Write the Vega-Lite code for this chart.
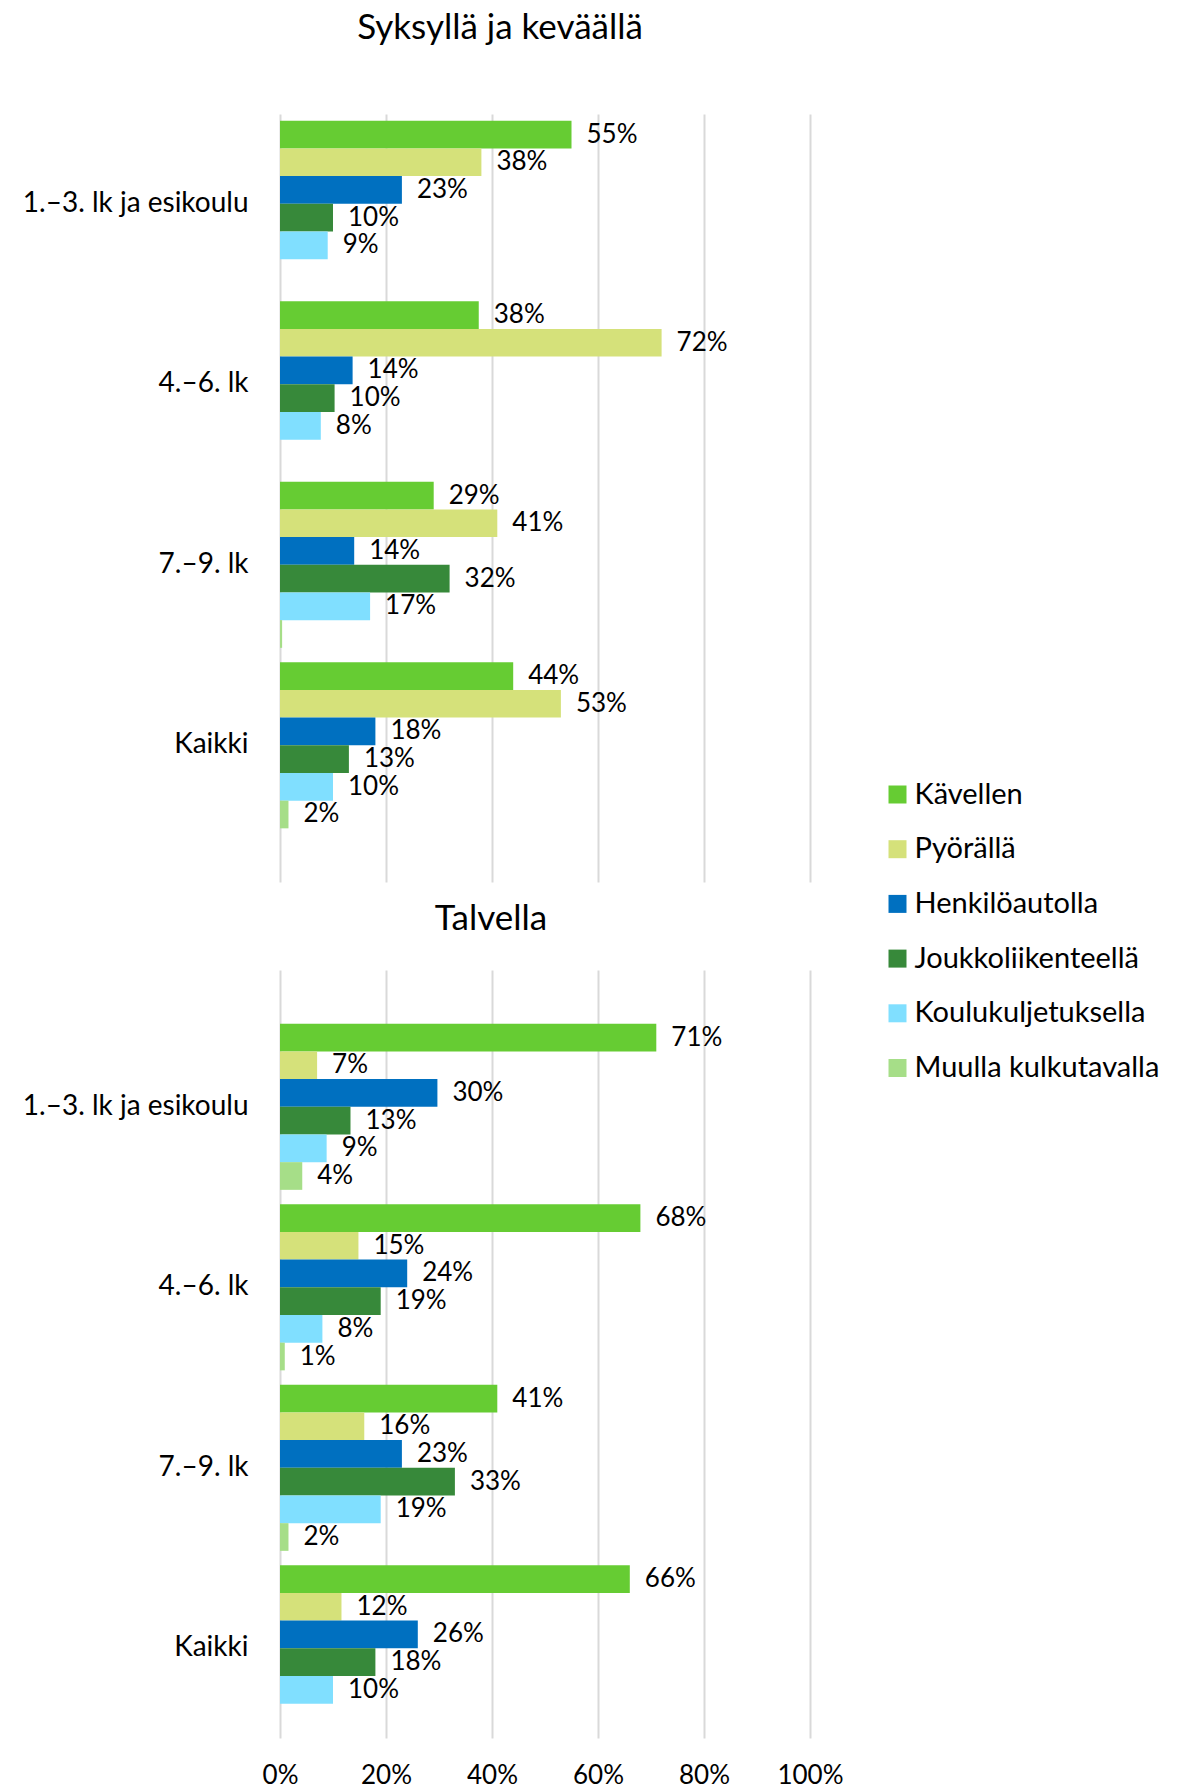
{
  "$schema": "https://vega.github.io/schema/vega-lite/v6.json",
  "padding": {"left": 22, "top": 11, "right": 0, "bottom": 0},
  "background": "white",
  "config": {
    "font": "Lato",
    "view": {"stroke": null},
    "concat": {"spacing": 20},
    "axis": {"labelColor": "#000", "gridColor": "#D9D9D9", "gridWidth": 2}
  },
  "datasets": {
    "syksy": [
      {"luokka": "1.–3. lk ja esikoulu", "tapa": "Kävellen", "osuus": 0.55},
      {"luokka": "1.–3. lk ja esikoulu", "tapa": "Pyörällä", "osuus": 0.38},
      {"luokka": "1.–3. lk ja esikoulu", "tapa": "Henkilöautolla", "osuus": 0.23},
      {"luokka": "1.–3. lk ja esikoulu", "tapa": "Joukkoliikenteellä", "osuus": 0.10},
      {"luokka": "1.–3. lk ja esikoulu", "tapa": "Koulukuljetuksella", "osuus": 0.09},
      {"luokka": "4.–6. lk", "tapa": "Kävellen", "osuus": 0.375},
      {"luokka": "4.–6. lk", "tapa": "Pyörällä", "osuus": 0.72},
      {"luokka": "4.–6. lk", "tapa": "Henkilöautolla", "osuus": 0.137},
      {"luokka": "4.–6. lk", "tapa": "Joukkoliikenteellä", "osuus": 0.103},
      {"luokka": "4.–6. lk", "tapa": "Koulukuljetuksella", "osuus": 0.077},
      {"luokka": "7.–9. lk", "tapa": "Kävellen", "osuus": 0.29},
      {"luokka": "7.–9. lk", "tapa": "Pyörällä", "osuus": 0.41},
      {"luokka": "7.–9. lk", "tapa": "Henkilöautolla", "osuus": 0.14},
      {"luokka": "7.–9. lk", "tapa": "Joukkoliikenteellä", "osuus": 0.32},
      {"luokka": "7.–9. lk", "tapa": "Koulukuljetuksella", "osuus": 0.17},
      {"luokka": "7.–9. lk", "tapa": "Muulla kulkutavalla", "osuus": 0.004},
      {"luokka": "Kaikki", "tapa": "Kävellen", "osuus": 0.44},
      {"luokka": "Kaikki", "tapa": "Pyörällä", "osuus": 0.53},
      {"luokka": "Kaikki", "tapa": "Henkilöautolla", "osuus": 0.18},
      {"luokka": "Kaikki", "tapa": "Joukkoliikenteellä", "osuus": 0.13},
      {"luokka": "Kaikki", "tapa": "Koulukuljetuksella", "osuus": 0.10},
      {"luokka": "Kaikki", "tapa": "Muulla kulkutavalla", "osuus": 0.016}
    ],
    "talvi": [
      {"luokka": "1.–3. lk ja esikoulu", "tapa": "Kävellen", "osuus": 0.71},
      {"luokka": "1.–3. lk ja esikoulu", "tapa": "Pyörällä", "osuus": 0.07},
      {"luokka": "1.–3. lk ja esikoulu", "tapa": "Henkilöautolla", "osuus": 0.297},
      {"luokka": "1.–3. lk ja esikoulu", "tapa": "Joukkoliikenteellä", "osuus": 0.133},
      {"luokka": "1.–3. lk ja esikoulu", "tapa": "Koulukuljetuksella", "osuus": 0.088},
      {"luokka": "1.–3. lk ja esikoulu", "tapa": "Muulla kulkutavalla", "osuus": 0.042},
      {"luokka": "4.–6. lk", "tapa": "Kävellen", "osuus": 0.68},
      {"luokka": "4.–6. lk", "tapa": "Pyörällä", "osuus": 0.148},
      {"luokka": "4.–6. lk", "tapa": "Henkilöautolla", "osuus": 0.24},
      {"luokka": "4.–6. lk", "tapa": "Joukkoliikenteellä", "osuus": 0.19},
      {"luokka": "4.–6. lk", "tapa": "Koulukuljetuksella", "osuus": 0.08},
      {"luokka": "4.–6. lk", "tapa": "Muulla kulkutavalla", "osuus": 0.009},
      {"luokka": "7.–9. lk", "tapa": "Kävellen", "osuus": 0.41},
      {"luokka": "7.–9. lk", "tapa": "Pyörällä", "osuus": 0.159},
      {"luokka": "7.–9. lk", "tapa": "Henkilöautolla", "osuus": 0.23},
      {"luokka": "7.–9. lk", "tapa": "Joukkoliikenteellä", "osuus": 0.33},
      {"luokka": "7.–9. lk", "tapa": "Koulukuljetuksella", "osuus": 0.19},
      {"luokka": "7.–9. lk", "tapa": "Muulla kulkutavalla", "osuus": 0.016},
      {"luokka": "Kaikki", "tapa": "Kävellen", "osuus": 0.66},
      {"luokka": "Kaikki", "tapa": "Pyörällä", "osuus": 0.116},
      {"luokka": "Kaikki", "tapa": "Henkilöautolla", "osuus": 0.26},
      {"luokka": "Kaikki", "tapa": "Joukkoliikenteellä", "osuus": 0.18},
      {"luokka": "Kaikki", "tapa": "Koulukuljetuksella", "osuus": 0.10}
    ]
  },
  "vconcat": [
    {
      "data": {"name": "syksy"},
      "title": {"text": "Syksyllä ja keväällä", "fontSize": 35, "fontWeight": "normal", "color": "#000", "anchor": "middle", "frame": "group", "dx": -45, "offset": 68},
      "width": 530,
      "height": 768,
      "encoding": {
        "y": {"field": "luokka", "type": "nominal", "sort": ["1.–3. lk ja esikoulu", "4.–6. lk", "7.–9. lk", "Kaikki"],
              "scale": {"paddingInner": 0.0797, "paddingOuter": 0.1672, "align": 0.111},
              "axis": {"title": null, "labelFontSize": 28, "labelPadding": 32, "ticks": false, "domain": false, "labelLimit": 400}},
        "yOffset": {"field": "tapa", "type": "nominal", "sort": ["Kävellen", "Pyörällä", "Henkilöautolla", "Joukkoliikenteellä", "Koulukuljetuksella", "Muulla kulkutavalla"],
              "scale": {"domain": ["Kävellen", "Pyörällä", "Henkilöautolla", "Joukkoliikenteellä", "Koulukuljetuksella", "Muulla kulkutavalla"], "paddingInner": 0, "paddingOuter": 0}},
        "x": {"field": "osuus", "type": "quantitative", "scale": {"domain": [0, 1]},
              "axis": {"title": null, "labels": false, "ticks": false, "domain": false, "grid": true, "values": [0, 0.2, 0.4, 0.6, 0.8, 1]}}
      },
      "layer": [
        {
          "mark": {"type": "bar"},
          "encoding": {
            "color": {"field": "tapa", "type": "nominal",
              "scale": {"domain": ["Kävellen", "Pyörällä", "Henkilöautolla", "Joukkoliikenteellä", "Koulukuljetuksella", "Muulla kulkutavalla"],
                        "range": ["#66CC33", "#D5E17A", "#0070C0", "#37893A", "#80DFFF", "#A6DE88"]},
              "legend": {"orient": "none", "legendX": 603, "legendY": 666, "title": null, "symbolType": "square", "symbolSize": 324, "symbolStrokeWidth": 0, "labelFontSize": 29, "labelColor": "#000", "rowPadding": 24.7, "labelOffset": 2.5, "padding": 0, "labelLimit": 400}}
          }
        },
        {
          "transform": [{"filter": "datum.osuus >= 0.005"}],
          "mark": {"type": "text", "align": "left", "baseline": "middle", "dx": 15, "fontSize": 26, "color": "#000"},
          "encoding": {"text": {"field": "osuus", "type": "quantitative", "format": ".0%"}}
        }
      ]
    },
    {
      "data": {"name": "talvi"},
      "title": {"text": "Talvella", "fontSize": 35, "fontWeight": "normal", "color": "#000", "anchor": "middle", "frame": "group", "dx": -54, "offset": 33},
      "width": 530,
      "height": 768,
      "encoding": {
        "y": {"field": "luokka", "type": "nominal", "sort": ["1.–3. lk ja esikoulu", "4.–6. lk", "7.–9. lk", "Kaikki"],
              "scale": {"paddingInner": 0.0797, "paddingOuter": 0.1672, "align": 0.89},
              "axis": {"title": null, "labelFontSize": 28, "labelPadding": 32, "ticks": false, "domain": false, "labelLimit": 400}},
        "yOffset": {"field": "tapa", "type": "nominal", "sort": ["Kävellen", "Pyörällä", "Henkilöautolla", "Joukkoliikenteellä", "Koulukuljetuksella", "Muulla kulkutavalla"],
              "scale": {"domain": ["Kävellen", "Pyörällä", "Henkilöautolla", "Joukkoliikenteellä", "Koulukuljetuksella", "Muulla kulkutavalla"], "paddingInner": 0, "paddingOuter": 0}},
        "x": {"field": "osuus", "type": "quantitative", "scale": {"domain": [0, 1]},
              "axis": {"title": null, "format": ".0%", "labelFontSize": 26, "labelPadding": 24, "labelFlush": false, "ticks": false, "domain": false, "grid": true, "values": [0, 0.2, 0.4, 0.6, 0.8, 1]}}
      },
      "layer": [
        {
          "mark": {"type": "bar"},
          "encoding": {
            "color": {"field": "tapa", "type": "nominal",
              "scale": {"domain": ["Kävellen", "Pyörällä", "Henkilöautolla", "Joukkoliikenteellä", "Koulukuljetuksella", "Muulla kulkutavalla"],
                        "range": ["#66CC33", "#D5E17A", "#0070C0", "#37893A", "#80DFFF", "#A6DE88"]},
              "legend": {"orient": "none", "legendX": 603, "legendY": 666, "title": null, "symbolType": "square", "symbolSize": 324, "symbolStrokeWidth": 0, "labelFontSize": 29, "labelColor": "#000", "rowPadding": 24.7, "labelOffset": 2.5, "padding": 0, "labelLimit": 400}}
          }
        },
        {
          "transform": [{"filter": "datum.osuus >= 0.005"}],
          "mark": {"type": "text", "align": "left", "baseline": "middle", "dx": 15, "fontSize": 26, "color": "#000"},
          "encoding": {"text": {"field": "osuus", "type": "quantitative", "format": ".0%"}}
        }
      ]
    }
  ]
}
